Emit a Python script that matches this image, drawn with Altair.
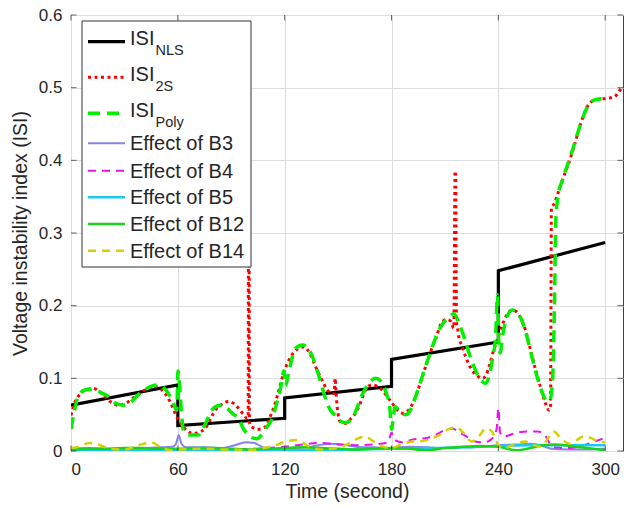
import altair as alt
import pandas as pd

# ---------------- data ----------------
nls_t = [0, 60, 60, 120, 120, 180, 180, 240, 240, 300]
nls_y = [0.063, 0.091, 0.035, 0.045, 0.073, 0.089, 0.126, 0.150, 0.248, 0.287]

s2_t = [0, 2, 5, 8, 12.5, 17, 22, 26.6, 31, 36, 41.6, 46.3, 50, 52.9, 56, 58.5, 60.5, 62.2, 65, 68.8,
        72, 75.4, 78, 80, 84, 88.5, 91, 94, 97, 98.8, 99.5, 99.7, 100.0, 100.2, 101.6, 105.4, 109, 112,
        114.7, 117, 119.4, 123, 127, 130.7, 134, 137, 139, 141.5, 143.8, 146, 147.8, 148.3, 148.9, 149.5,
        151.3, 154, 157, 159.7, 162.5, 165.4, 169, 172, 174.7, 177.5, 180.3, 183, 186, 189.5, 193.5, 197,
        201, 205, 208.5, 211, 213, 215, 215.7, 216.0, 216.5, 217, 217.8, 219.5, 221.6, 225, 229, 231, 233,
        235, 237.5, 239.4, 242, 245, 247.8, 250, 253, 255.3, 258, 261, 264, 266.5, 268.5, 269.3, 269.8,
        271.3, 273.5, 276, 278.8, 282.5, 286.3, 290, 293.8, 296, 300.3, 303, 305, 307, 309.7]
s2_y = [0.049, 0.066, 0.078, 0.084, 0.086, 0.080, 0.068, 0.063, 0.066, 0.075, 0.084, 0.089, 0.086, 0.079,
        0.066, 0.052, 0.042, 0.036, 0.028, 0.024, 0.026, 0.031, 0.042, 0.052, 0.063, 0.068, 0.066, 0.059,
        0.050, 0.045, 0.046, 0.30, 0.30, 0.040, 0.033, 0.030, 0.033, 0.048, 0.066, 0.086, 0.107, 0.128,
        0.140, 0.143, 0.135, 0.118, 0.107, 0.095, 0.084, 0.080, 0.079, 0.100, 0.080, 0.060, 0.040, 0.038,
        0.044, 0.052, 0.066, 0.084, 0.091, 0.089, 0.084, 0.075, 0.066, 0.057, 0.052, 0.056, 0.075, 0.100,
        0.130, 0.156, 0.178, 0.181, 0.179, 0.169, 0.385, 0.385, 0.176, 0.170, 0.157, 0.145, 0.130, 0.112,
        0.102, 0.100, 0.104, 0.118, 0.140, 0.153, 0.172, 0.188, 0.194, 0.192, 0.180, 0.166, 0.140, 0.111,
        0.085, 0.065, 0.056, 0.060, 0.336, 0.340, 0.355, 0.373, 0.391, 0.419, 0.451, 0.474, 0.483, 0.484,
        0.485, 0.486, 0.487, 0.492, 0.502]

poly_t = [0, 1.5, 4, 7.9, 12, 17, 21, 25, 29.4, 33, 38, 42.6, 46, 49, 52, 55, 57.5, 59.4, 60.1, 61, 62,
          63.2, 67, 71.6, 75, 79, 82, 84.8, 88, 91, 94, 97, 99.7, 102, 104.4, 107, 110, 113, 116, 118,
          119.5, 120.5, 122, 126, 130, 134, 138, 141, 143.8, 146, 149, 152, 154, 157, 160, 163, 167, 171,
          174, 177, 179, 180, 181, 182, 185, 188, 191, 194, 198, 201, 205, 209, 212, 215, 218, 220.7,
          223.5, 226.3, 229.5, 232.8, 235, 236.6, 238.5, 239.5, 240.3, 241, 242.5, 245, 247.8, 250, 253,
          256, 259, 262, 265, 267.5, 269, 270.5, 271.5, 272.3, 273.5, 276, 279, 282, 285, 288, 290.5,
          293, 296, 298]
poly_y = [0.030, 0.050, 0.075, 0.084, 0.085, 0.080, 0.075, 0.066, 0.063, 0.066, 0.078, 0.086, 0.090, 0.091,
          0.087, 0.078, 0.066, 0.056, 0.110, 0.090, 0.055, 0.027, 0.022, 0.022, 0.035, 0.056, 0.062, 0.063,
          0.058, 0.051, 0.045, 0.030, 0.022, 0.018, 0.017, 0.022, 0.033, 0.045, 0.070, 0.090, 0.110, 0.090,
          0.105, 0.141, 0.146, 0.138, 0.113, 0.088, 0.066, 0.055, 0.048, 0.040, 0.039, 0.042, 0.055, 0.075,
          0.092, 0.100, 0.096, 0.080, 0.060, 0.030, 0.045, 0.061, 0.053, 0.050, 0.058, 0.078, 0.108, 0.130,
          0.157, 0.176, 0.183, 0.189, 0.175, 0.157, 0.135, 0.116, 0.100, 0.093, 0.105, 0.125, 0.160, 0.215,
          0.150, 0.135, 0.160, 0.185, 0.194, 0.192, 0.181, 0.158, 0.128, 0.100, 0.078, 0.068, 0.070, 0.100,
          0.200, 0.320, 0.350, 0.373, 0.395, 0.417, 0.441, 0.462, 0.476, 0.482, 0.484, 0.485]

b3_t = [0, 10, 20, 30, 40, 50, 57, 59, 60.5, 62, 65, 75, 85, 92, 98, 103, 108, 115, 125, 135, 145, 152,
        160, 170, 180, 190, 200, 210, 220, 230, 240, 250, 258, 265, 270, 280, 290, 300]
b3_y = [0.003, 0.004, 0.003, 0.004, 0.004, 0.005, 0.006, 0.010, 0.022, 0.010, 0.005, 0.005, 0.004, 0.008,
        0.012, 0.011, 0.005, 0.003, 0.004, 0.006, 0.010, 0.009, 0.006, 0.005, 0.004, 0.006, 0.005, 0.004,
        0.005, 0.006, 0.008, 0.009, 0.010, 0.007, 0.003, 0.002, 0.002, 0.003]

b4_t = [0, 20, 40, 60, 80, 100, 110, 120, 130, 140, 150, 160, 170, 178, 180, 182, 186, 192, 200, 206,
        210, 214, 218, 222, 227, 232, 236, 239, 240, 241, 243, 250, 256, 262, 266, 269, 272, 280, 288,
        294, 300]
b4_y = [0.001, 0.001, 0.002, 0.002, 0.002, 0.003, 0.004, 0.006, 0.009, 0.011, 0.009, 0.008, 0.009, 0.012,
        0.025, 0.015, 0.012, 0.016, 0.018, 0.024, 0.029, 0.031, 0.026, 0.020, 0.013, 0.012, 0.016, 0.030,
        0.059, 0.025, 0.020, 0.025, 0.027, 0.027, 0.022, 0.010, 0.005, 0.004, 0.008, 0.013, 0.018]

b5_t = [0, 60, 120, 160, 180, 200, 220, 240, 260, 280, 300]
b5_y = [0.001, 0.001, 0.001, 0.002, 0.003, 0.004, 0.005, 0.007, 0.008, 0.008, 0.008]

b12_t = [0, 10, 20, 30, 40, 50, 60, 70, 80, 90, 100, 110, 120, 130, 140, 150, 160, 170, 180, 190, 200,
         210, 220, 230, 240, 245, 250, 258, 265, 272, 280, 290, 300]
b12_y = [0.002, 0.003, 0.003, 0.004, 0.004, 0.003, 0.003, 0.004, 0.004, 0.003, 0.002, 0.003, 0.004, 0.005,
         0.004, 0.003, 0.002, 0.003, 0.004, 0.003, 0.001, 0.004, 0.006, 0.007, 0.006, 0.003, 0.001, 0.004,
         0.008, 0.009, 0.007, 0.004, 0.001]

b14_t = [0, 5, 10, 15, 22, 30, 38, 45, 50, 56, 62, 70, 78, 85, 92, 100, 108, 115, 122, 127, 133, 140,
         147, 155, 160, 165, 170, 175, 180, 186, 192, 198, 203, 207, 212, 216, 220, 225, 229, 233, 236,
         240, 243, 250, 255, 260, 264, 268, 271, 275, 280, 284, 288, 292, 296, 300]
b14_y = [0.004, 0.006, 0.011, 0.009, 0.003, 0.002, 0.008, 0.012, 0.006, 0.001, 0.002, 0.003, 0.003, 0.002,
         0.002, 0.001, 0.004, 0.008, 0.014, 0.015, 0.007, 0.002, 0.003, 0.009, 0.016, 0.020, 0.013, 0.006,
         0.004, 0.010, 0.013, 0.014, 0.018, 0.022, 0.030, 0.033, 0.026, 0.013, 0.020, 0.031, 0.028, 0.008,
         0.004, 0.010, 0.013, 0.008, 0.006, 0.018, 0.027, 0.018, 0.010, 0.015, 0.020, 0.018, 0.013, 0.012]

x_ticks = [0, 60, 120, 180, 240, 300]
y_ticks = [0, 0.1, 0.2, 0.3, 0.4, 0.5, 0.6]

# ---------------- layout ----------------
W, H = 552, 436
FONT = "Liberation Sans"
TXT = "#262626"

xs = alt.Scale(domain=[0, 310], nice=False, zero=False)
ys = alt.Scale(domain=[0, 0.6], nice=False, zero=False)
x_axis = alt.Axis(values=x_ticks, ticks=False, domain=False, grid=True,
                  labelPadding=10, titlePadding=5, format="d")
y_axis = alt.Axis(values=y_ticks, ticks=False, domain=False, grid=True,
                  labelPadding=9, titlePadding=8, format="~g")
X = alt.X("t:Q", scale=xs, title="Time (second)", axis=x_axis)
Y = alt.Y("v:Q", scale=ys, title="Voltage instability index (ISI)", axis=y_axis)


def series(t, y, color, width, dash=None, interp="monotone"):
    df = pd.DataFrame({"t": t, "v": y, "i": range(len(t))})
    kw = dict(color=color, strokeWidth=width, interpolate=interp, clip=True)
    if dash:
        kw["strokeDash"] = dash
    return alt.Chart(df).mark_line(**kw).encode(x=X, y=Y, order="i:Q")


# inward ticks (MATLAB box style)
xt = pd.DataFrame({"t": x_ticks})
yt = pd.DataFrame({"v": y_ticks})
tick_bottom = alt.Chart(xt).mark_tick(orient="vertical", color=TXT, size=5.5, thickness=1).encode(
    x=X, y=alt.value(H - 2.75))
tick_top = alt.Chart(xt).mark_tick(orient="vertical", color=TXT, size=5.5, thickness=1).encode(
    x=X, y=alt.value(2.75))
tick_left = alt.Chart(yt).mark_tick(orient="horizontal", color=TXT, size=5.5, thickness=1).encode(
    y=Y, x=alt.value(2.75))
tick_right = alt.Chart(yt).mark_tick(orient="horizontal", color=TXT, size=5.5, thickness=1).encode(
    y=Y, x=alt.value(W - 2.75))

layers = [
    series(nls_t, nls_y, "#000000", 3.2, interp="linear"),
    series(s2_t, s2_y, "#ff0000", 3, dash=[3, 3.5]),
    series(poly_t, poly_y, "#00f000", 3.5, dash=[12, 7]),
    series(b3_t, b3_y, "#8585e6", 2),
    series(b4_t, b4_y, "#ee11ee", 2, dash=[8, 6]),
    series(b5_t, b5_y, "#1ec8f0", 2.5),
    series(b12_t, b12_y, "#19d219", 2.5),
    series(b14_t, b14_y, "#d2d200", 2.5, dash=[8, 6]),
    tick_bottom, tick_top, tick_left, tick_right,
]

# ---------------- legend (manual, for subscripts) ----------------
one = pd.DataFrame({"k": [0]})
legend_names = ["ISI", "ISI", "ISI", "Effect of B3", "Effect of B4", "Effect of B5", "Effect of B12", "Effect of B14"]
legend_subs = ["NLS", "2S", "Poly", "", "", "", "", ""]
legend_colors = ["#000000", "#ff0000", "#00f000", "#8585e6", "#ee11ee", "#1ec8f0", "#19d219", "#d2d200"]
legend_widths = [3.2, 3, 3.5, 2, 2, 2.5, 2.5, 2.5]
legend_dashes = [None, [3, 3.5], [12, 7], None, [8, 6], None, None, [8, 6]]
legend_rows = [26.7, 62.3, 98.3, 128.3, 155.7, 182.3, 209, 235.7]

layers.append(alt.Chart(one).mark_rect(fill="white", stroke="#333333", strokeWidth=1).encode(
    x=alt.value(11), x2=alt.value(180), y=alt.value(6), y2=alt.value(252)))

for name, sub, col, wd, dash, yy in zip(legend_names, legend_subs, legend_colors,
                                        legend_widths, legend_dashes, legend_rows):
    kw = dict(color=col, strokeWidth=wd)
    if dash:
        kw["strokeDash"] = dash
    layers.append(alt.Chart(one).mark_rule(**kw).encode(
        x=alt.value(17), x2=alt.value(54), y=alt.value(yy)))
    if sub:
        layers.append(alt.Chart(one).mark_text(
            text=name, align="left", baseline="alphabetic", fontSize=20, font=FONT, color=TXT
        ).encode(x=alt.value(59), y=alt.value(yy + 3.5)))
        layers.append(alt.Chart(one).mark_text(
            text=sub, align="left", baseline="alphabetic", fontSize=14.5, font=FONT, color=TXT
        ).encode(x=alt.value(84.5), y=alt.value(yy + 13.5)))
    else:
        layers.append(alt.Chart(one).mark_text(
            text=name, align="left", baseline="middle", fontSize=20, font=FONT, color=TXT
        ).encode(x=alt.value(59), y=alt.value(yy + 1)))

chart = alt.layer(*layers).properties(
    width=W, height=H,
    autosize=alt.AutoSizeParams(type="none"),
    padding={"left": 71, "top": 15, "right": 8, "bottom": 59},
).configure_view(
    stroke="#404040", strokeWidth=1
).configure_axis(
    labelFont=FONT, titleFont=FONT, labelFontSize=17, titleFontSize=19.5,
    labelColor=TXT, titleColor=TXT, titleFontWeight="normal",
    gridColor="#dedede", gridWidth=1,
)

chart.save("out.html", embed_options={"renderer": "svg", "actions": False})
